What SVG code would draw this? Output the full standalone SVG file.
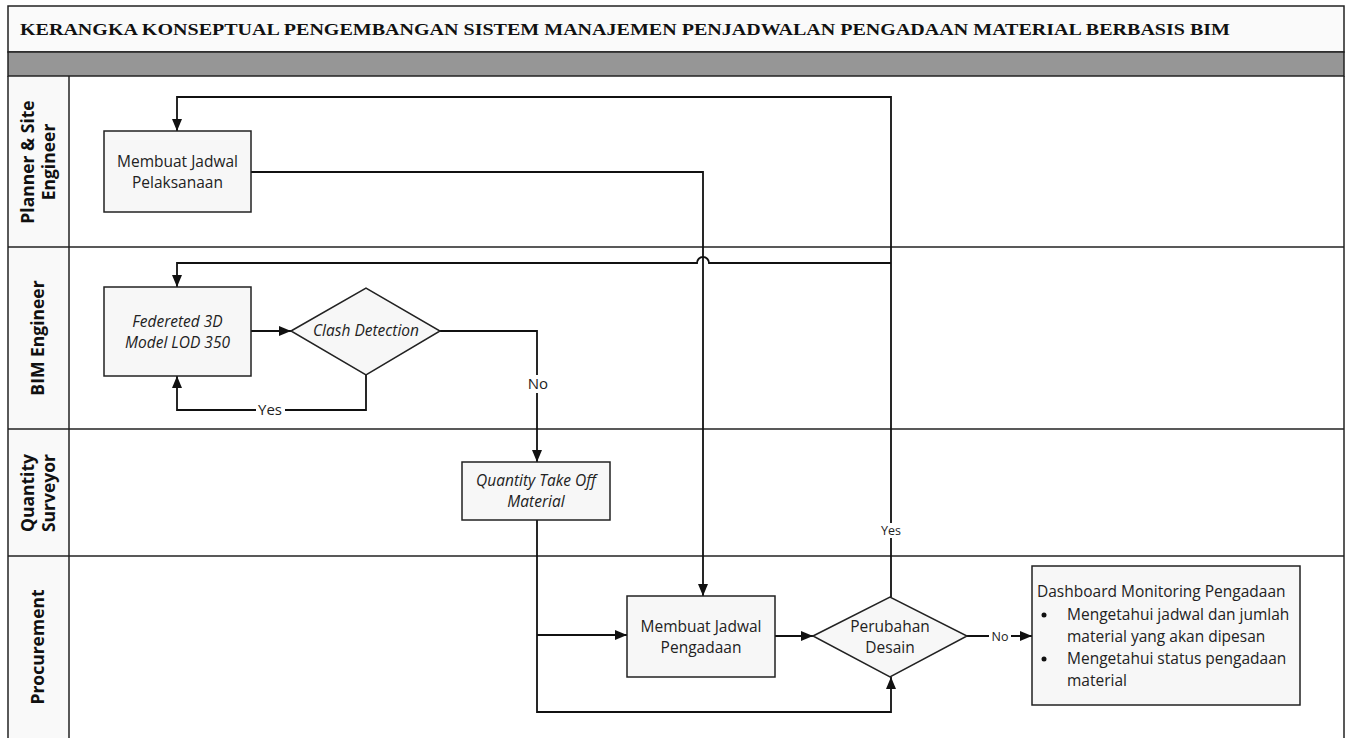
<svg xmlns="http://www.w3.org/2000/svg" width="1348" height="738" viewBox="0 0 1348 738">
<style>
.frame{fill:none;stroke:#222;stroke-width:1.5}
.lane{stroke:#222;stroke-width:1.5}
.hdr{fill:#f9f9f9;stroke:none}
.lbl{font-family:"Open Sans","Noto Sans",sans-serif;font-weight:bold;font-size:17.5px;fill:#111;text-anchor:middle}
.box{fill:#f7f7f7;stroke:#222;stroke-width:1.5}
.t{font-family:"Open Sans","Noto Sans",sans-serif;font-size:15.5px;fill:#222;text-anchor:middle}
.ti{font-style:italic}
.c{fill:none;stroke:#111;stroke-width:1.8}
.cl{font-family:"Open Sans","Noto Sans",sans-serif;font-size:15px;fill:#222;text-anchor:middle}
.cls{font-size:12.5px}
.bg{fill:#fff}
</style>
<defs>
<marker id="a" viewBox="0 0 10 10" refX="10" refY="5" markerWidth="12" markerHeight="10" markerUnits="userSpaceOnUse" orient="auto" preserveAspectRatio="none"><path d="M0,0 L10,5 L0,10 z" fill="#111"/></marker>
</defs>
<rect width="1348" height="738" fill="#fff"/>
<g id="title">
<rect x="8" y="6" width="1336" height="46" fill="#fafafa" stroke="#222" stroke-width="1.5"/>
<text x="20" y="35" font-family="Liberation Serif,serif" font-weight="bold" font-size="17.5" fill="#111" textLength="1210" lengthAdjust="spacingAndGlyphs">KERANGKA KONSEPTUAL PENGEMBANGAN SISTEM MANAJEMEN PENJADWALAN PENGADAAN MATERIAL BERBASIS BIM</text>
<rect x="8" y="52" width="1336" height="24" fill="#969696" stroke="#222" stroke-width="1.5"/>
</g>
<g id="lanes">
<rect class="hdr" x="8.75" y="77" width="60" height="661"/>
<line class="lane" x1="8" y1="76" x2="8" y2="738"/>
<line class="lane" x1="1344" y1="76" x2="1344" y2="738"/>
<line class="lane" x1="69" y1="76" x2="69" y2="738"/>
<line class="lane" x1="8" y1="247" x2="1344" y2="247"/>
<line class="lane" x1="8" y1="429" x2="1344" y2="429"/>
<line class="lane" x1="8" y1="556" x2="1344" y2="556"/>
<text class="lbl" transform="translate(38,162) rotate(-90)"><tspan x="0" y="-4">Planner &amp; Site</tspan><tspan x="0" y="17">Engineer</tspan></text>
<text class="lbl" transform="translate(38,338) rotate(-90)"><tspan x="0" y="6">BIM Engineer</tspan></text>
<text class="lbl" transform="translate(38,493) rotate(-90)"><tspan x="0" y="-4">Quantity</tspan><tspan x="0" y="17">Surveyor</tspan></text>
<text class="lbl" transform="translate(38,647) rotate(-90)"><tspan x="0" y="6">Procurement</tspan></text>
</g>
<g id="connectors">
<path class="c" d="M251,172 H703 V596" marker-end="url(#a)"/>
<path class="c" d="M891,597 V97 H177 V131" marker-end="url(#a)"/>
<path class="c" d="M891,263 H709 A6,6 0 0 0 697,263 H177 V287" marker-end="url(#a)"/>
<path class="c" d="M251,331 H291" marker-end="url(#a)"/>
<path class="c" d="M366,375 V410 H177 V376" marker-end="url(#a)"/>
<path class="c" d="M440,331 H537 V462" marker-end="url(#a)"/>
<path class="c" d="M537,520 V712 H891 V677" marker-end="url(#a)"/>
<path class="c" d="M537,635 H627" marker-end="url(#a)"/>
<path class="c" d="M775,636 H813" marker-end="url(#a)"/>
<path class="c" d="M967,636 H1032" marker-end="url(#a)"/>
<rect class="bg" x="256" y="401" width="29" height="18"/>
<text class="cl" x="270" y="415">Yes</text>
<rect class="bg" x="526" y="375" width="24" height="18"/>
<text class="cl" x="538" y="389">No</text>
<rect class="bg" x="879" y="523" width="24" height="15"/>
<text class="cl cls" x="891" y="535">Yes</text>
<rect class="bg" x="989" y="629" width="22" height="15"/>
<text class="cl cls" x="1000" y="641">No</text>
</g>
<g id="n1">
<rect class="box" x="104" y="131" width="147" height="81"/>
<text class="t" x="177.5" y="167">Membuat Jadwal</text>
<text class="t" x="177.5" y="188">Pelaksanaan</text>
</g>
<g id="n2">
<rect class="box" x="104" y="287" width="147" height="89"/>
<text class="t ti" x="177.5" y="327">Federeted 3D</text>
<text class="t ti" x="177.5" y="348">Model LOD 350</text>
</g>
<g id="n3">
<polygon class="box" points="291,331 366,288 440,331 366,375"/>
<text class="t ti" x="366" y="336">Clash Detection</text>
</g>
<g id="n4">
<rect class="box" x="462" y="462" width="148" height="58"/>
<text class="t ti" x="536" y="486">Quantity Take Off</text>
<text class="t ti" x="536" y="507">Material</text>
</g>
<g id="n5">
<rect class="box" x="627" y="596" width="148" height="81"/>
<text class="t" x="701" y="632">Membuat Jadwal</text>
<text class="t" x="701" y="653">Pengadaan</text>
</g>
<g id="n6">
<polygon class="box" points="813,636 890,597 967,636 890,677"/>
<text class="t" x="890" y="632">Perubahan</text>
<text class="t" x="890" y="653">Desain</text>
</g>
<g id="n7">
<rect class="box" x="1032" y="566" width="268" height="139"/>
<g font-family="Open Sans,Noto Sans,sans-serif" font-size="15.5" fill="#222">
<text x="1037" y="597">Dashboard Monitoring Pengadaan</text>
<circle cx="1044" cy="615" r="2.5" fill="#111"/>
<text x="1067" y="620">Mengetahui jadwal dan jumlah</text>
<text x="1067" y="642">material yang akan dipesan</text>
<circle cx="1044" cy="659" r="2.5" fill="#111"/>
<text x="1067" y="664">Mengetahui status pengadaan</text>
<text x="1067" y="686">material</text>
</g>
</g>
</svg>
